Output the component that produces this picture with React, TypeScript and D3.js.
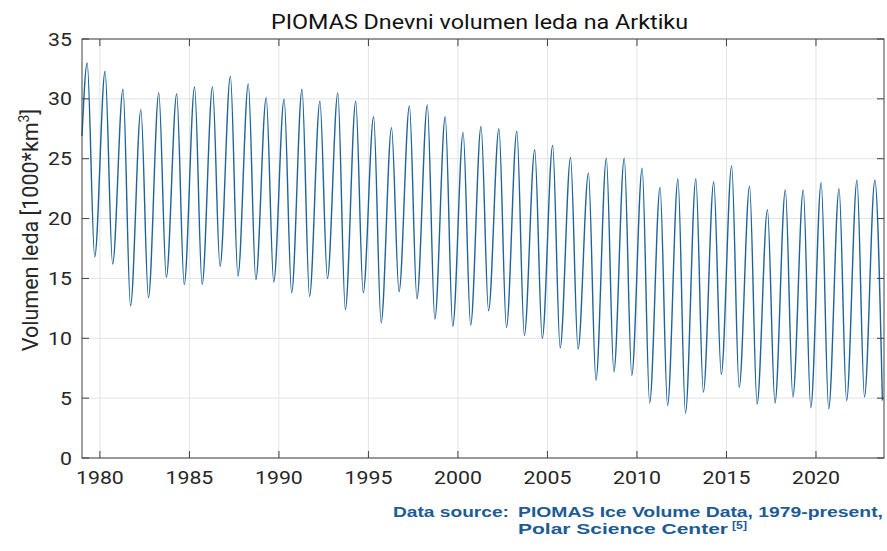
import React from "react";
import * as d3 from "d3";

// ---- data ----
const years = [
  1979, 1980, 1981, 1982, 1983, 1984, 1985, 1986, 1987, 1988,
  1989, 1990, 1991, 1992, 1993, 1994, 1995, 1996, 1997, 1998,
  1999, 2000, 2001, 2002, 2003, 2004, 2005, 2006, 2007, 2008,
  2009, 2010, 2011, 2012, 2013, 2014, 2015, 2016, 2017, 2018,
  2019, 2020, 2021, 2022, 2023,
];
// annual maximum (April) volume, 1000 km^3
const annualMax = [
  33.0, 32.3, 30.8, 29.1, 30.5, 30.4, 31.0, 31.0, 31.9, 31.25,
  30.1, 30.0, 30.8, 29.8, 30.5, 29.8, 28.5, 27.6, 29.4, 29.5,
  28.5, 27.2, 27.7, 27.5, 27.3, 25.75, 26.1, 25.1, 23.8, 25.05,
  25.05, 24.2, 22.6, 23.3, 23.3, 23.05, 24.4, 22.7, 20.75, 22.4,
  22.4, 23.0, 22.5, 23.2, 23.2,
];
// annual minimum (September) volume, 1000 km^3
const annualMin = [
  16.8, 16.2, 12.7, 13.4, 15.1, 14.5, 14.5, 16.0, 15.2, 14.9,
  14.7, 13.8, 13.5, 15.0, 12.4, 13.8, 11.3, 13.9, 13.3, 11.6,
  11.0, 11.1, 12.3, 10.9, 10.25, 10.0, 9.2, 9.1, 6.5, 7.2,
  6.9, 4.6, 4.4, 3.75, 5.5, 7.0, 5.9, 4.5, 4.6, 5.1,
  4.2, 4.1, 4.8, 5.1, 4.8,
];
const startValue = 26.9; // 1 Jan 1979
const maxPhase = 0.29; // fraction of year of the maximum
const minPhase = 0.71; // fraction of year of the minimum

const xTicks = [1980, 1985, 1990, 1995, 2000, 2005, 2010, 2015, 2020];
const yTicks = [0, 5, 10, 15, 20, 25, 30, 35];

const title = "PIOMAS Dnevni volumen leda na Arktiku";
const yLabel = "Volumen leda [1000*km";
const sourceLabel = "Data source:";
const sourceLine1 = "PIOMAS Ice Volume Data, 1979-present,";
const sourceLine2 = "Polar Science Center";
const sourceRef = "[5]";

type Pt = { t: number; v: number };

const FONT = "Roboto, 'Noto Sans', sans-serif";

function SText(props: {
  x: number;
  y: number;
  anchor?: string;
  size: number;
  sx?: number;
  fill?: string;
  children: React.ReactNode;
}) {
  const { x, y, anchor = "start", size, sx = 1, fill = "#262626", children } = props;
  return (
    <g transform={`translate(${x},${y}) scale(${sx},1)`}>
      <text x={0} y={0} textAnchor={anchor} fontFamily={FONT} fontSize={size} fill={fill}>
        {children}
      </text>
    </g>
  );
}

export default function App() {
  const W = 887;
  const H = 551;
  const left = 82;
  const right = 884;
  const top = 39;
  const bottom = 458;

  const x = d3.scaleLinear().domain([1979, 2023.8]).range([left, right]);
  const y = d3.scaleLinear().domain([0, 35]).range([bottom, top]);

  const pts: Pt[] = [{ t: years[0], v: startValue }];
  years.forEach((yr, i) => {
    pts.push({ t: yr + maxPhase, v: annualMax[i] });
    pts.push({ t: yr + minPhase, v: annualMin[i] });
  });

  const line = d3
    .line<Pt>()
    .x((d) => x(d.t))
    .y((d) => y(d.v))
    .curve(d3.curveMonotoneX);

  const axisColor = "#404040";
  const gridColor = "#e3e3e3";
  const textColor = "#262626";
  const tickLen = 7;
  const srcColor = "#1d5b94";
  const srcFont = "'Liberation Sans', Arial, sans-serif";

  return (
    <svg
      width={W}
      height={H}
      viewBox={`0 0 ${W} ${H}`}
      style={{ position: "absolute", left: 0, top: 0, display: "block", background: "#fff" }}
    >
      <rect x={0} y={0} width={W} height={H} fill="#fff" />
      {/* grid */}
      <g>
        {xTicks.map((t) => (
          <line key={"gx" + t} x1={x(t)} x2={x(t)} y1={top} y2={bottom} stroke={gridColor} strokeWidth={1} />
        ))}
        {yTicks.map((t) => (
          <line key={"gy" + t} x1={left} x2={right} y1={y(t)} y2={y(t)} stroke={gridColor} strokeWidth={1} />
        ))}
      </g>
      {/* data line */}
      <path d={line(pts) || ""} fill="none" stroke="#1f6399" strokeWidth={1.4} strokeLinejoin="round" />
      {/* axes box */}
      <rect x={left} y={top} width={right - left} height={bottom - top} fill="none" stroke={axisColor} strokeWidth={1} />
      {/* ticks */}
      {xTicks.map((t) => (
        <g key={"tx" + t}>
          <line x1={x(t)} x2={x(t)} y1={bottom} y2={bottom - tickLen} stroke={axisColor} />
          <line x1={x(t)} x2={x(t)} y1={top} y2={top + tickLen} stroke={axisColor} />
          <SText x={x(t)} y={484} anchor="middle" size={18.5} sx={1.15} fill={textColor}>
            {t}
          </SText>
        </g>
      ))}
      {yTicks.map((t) => (
        <g key={"ty" + t}>
          <line x1={left} x2={left + tickLen} y1={y(t)} y2={y(t)} stroke={axisColor} />
          <line x1={right} x2={right - tickLen} y1={y(t)} y2={y(t)} stroke={axisColor} />
          <SText x={72} y={y(t) + 6.5} anchor="end" size={18.5} sx={1.15} fill={textColor}>
            {t}
          </SText>
        </g>
      ))}
      {/* title */}
      <text
        x={271}
        y={29}
        textLength={417}
        lengthAdjust="spacingAndGlyphs"
        fontFamily={FONT}
        fontSize={20}
        fill="#111"
      >
        {title}
      </text>
      {/* y label */}
      <text
        transform={`translate(38, 230) rotate(-90)`}
        textAnchor="middle"
        fontFamily={FONT}
        fontSize={21.5}
        fill={textColor}
      >
        {yLabel}
        <tspan dy={-9} fontSize={14}>3</tspan>
        <tspan dy={9}>]</tspan>
      </text>
      {/* source */}
      <g fontFamily={srcFont} fontWeight="bold" fill={srcColor} fontSize={14.5}>
        <text x={393} y={517} textLength={116} lengthAdjust="spacingAndGlyphs">{sourceLabel}</text>
        <text x={518} y={517} textLength={365} lengthAdjust="spacingAndGlyphs">{sourceLine1}</text>
        <text x={518} y={534} textLength={210} lengthAdjust="spacingAndGlyphs">{sourceLine2}</text>
        <text x={732} y={529} fontSize={10} textLength={15} lengthAdjust="spacingAndGlyphs">{sourceRef}</text>
      </g>
    </svg>
  );
}
